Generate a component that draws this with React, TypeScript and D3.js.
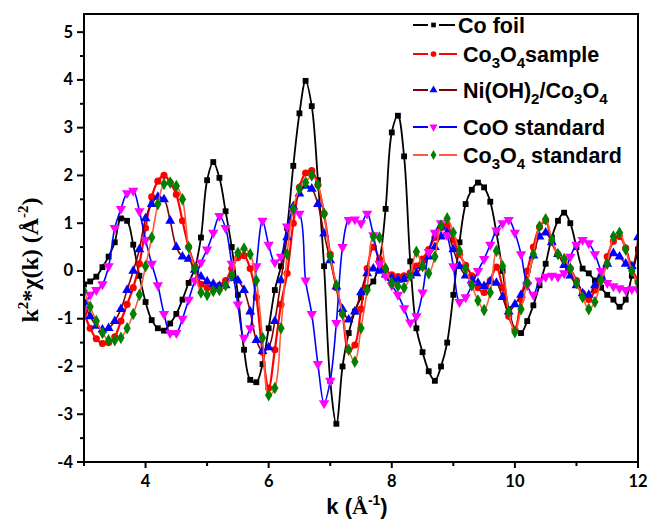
import React from "react";
import * as d3 from "d3";

// k grid: 3.0 to 12.0 in steps of 0.1
const kValues: number[] = Array.from({ length: 91 }, (_, i) => +(3 + i * 0.1).toFixed(1));

const coFoil = [
  -0.28, -0.22, -0.12, 0.08, 0.3, 0.6, 1.1, 1.05, 0.55, -0.1,
  -0.65, -1.03, -1.2, -1.25, -1.1, -0.9, -0.6, -0.25, 0.05, 0.7,
  1.9, 2.28, 1.95, 1.25, 0.5, -0.5, -1.65, -2.28, -2.33, -1.95,
  -1.2, -0.4, 0.1, 0.9, 2.2, 3.3, 3.98, 3.45, 1.9, 0.1,
  -2.3, -3.2, -2.0, -1.3, -0.85, -0.55, -0.35, -0.22, 0.2, 1.3,
  2.9, 3.25, 2.4, 0.2, -1.2, -1.7, -2.1, -2.3, -2.0, -1.5,
  -0.5, 0.6, 1.4, 1.7, 1.85, 1.75, 1.45, 0.8, 0.0, -0.8,
  -1.22, -1.3, -1.05, -0.72, -0.3, 0.15, 0.7, 1.05, 1.22, 1.0,
  0.5, 0.05, -0.05, -0.2, -0.35, -0.5, -0.6, -0.75, -0.6, -0.1,
  0.45,
];

const co3o4Sample = [
  -0.88, -1.2, -1.42, -1.52, -1.5, -1.38, -1.05, -0.7, -0.35, 0.15,
  0.9, 1.55, 1.88, 2.0, 1.85, 1.6, 1.05, 0.5, 0.1, -0.28,
  -0.35, -0.33, -0.3, -0.2, 0.05, 0.28, 0.32, 0.05, -0.55, -1.7,
  -2.45, -1.65, -0.7, -0.05, 1.0, 1.75, 2.05, 2.1, 1.8, 1.2,
  0.35, -0.35, -0.9, -1.65, -1.55, -0.8, 0.05, 0.5, 0.25, 0.0,
  -0.08, -0.12, -0.1, -0.04, 0.1, 0.25, 0.45, 0.7, 0.9, 0.95,
  0.65, 0.35, 0.12, -0.1, -0.35, -0.45, -0.2, 0.08, -0.35, -0.95,
  -1.22, -0.6, 0.0, 0.5, 0.92, 1.05, 0.6, 0.35, 0.25, 0.05,
  -0.2, -0.47, -0.6, -0.4, -0.1, 0.3, 0.62, 0.72, 0.48, 0.05,
  -0.2,
];

const niOH2Co3o4 = [
  -0.65, -0.95, -1.15, -1.23, -1.2, -1.05, -0.8, -0.4, 0.0, 0.45,
  1.1, 1.4, 1.55, 1.5, 1.05, 0.5, 0.3, 0.25, 0.02, -0.12,
  -0.22, -0.27, -0.32, -0.3, -0.15, -0.2, -0.4, -0.85, -1.45, -1.68,
  -1.6, -1.05, -0.2, 0.7, 1.35, 1.62, 1.78, 1.72, 1.4, 0.78,
  0.22, -0.33, -0.8, -1.02, -0.85, -0.45, -0.05, 0.05, 0.0, -0.08,
  -0.15, -0.19, -0.17, -0.1, -0.05, 0.1, 0.3, 0.5, 0.72, 0.8,
  0.45, 0.1, -0.1, -0.2, -0.25, -0.32, -0.22, -0.25, -0.55, -0.85,
  -0.7, -0.5, -0.22, 0.32, 0.72, 0.8, 0.6, 0.35, 0.12, -0.1,
  -0.3, -0.47, -0.5, -0.3, -0.1, 0.15, 0.37, 0.3, 0.15, 0.1,
  0.7,
];

const cooStandard = [
  -0.8, -0.5, -0.4, -0.28, 0.1, 0.9, 1.3, 1.63, 1.68, 1.25,
  0.65, 0.15, -0.3, -0.9, -1.3, -1.3, -1.0, -0.6, -0.2, 0.18,
  0.45, 0.8, 1.15, 0.9, 0.15, -0.7, -1.4, -1.2, 0.1, 1.05,
  0.55, 0.18, 0.3, 0.93, 1.25, 1.2, -0.2, -0.9, -1.95, -2.77,
  -2.3, -1.09, 0.5, 1.07, 1.08, 1.0, 1.2, 0.75, 0.15, -0.1,
  -0.3, -0.5, -0.78, -1.08, -0.95, -0.45, 0.4, 0.8, 1.0, 0.75,
  0.1, -0.65, -0.55, -0.3, 0.0, 0.25, 0.55, 0.85, 1.0, 1.07,
  0.8, 0.35, -0.3, -0.5, -0.2, -0.12, -0.1, -0.12, -0.05, 0.3,
  0.55, 0.65, 0.58, 0.35, 0.0, -0.25, -0.32, -0.36, -0.4, -0.38,
  -0.4,
];

const co3o4Standard = [
  -0.42, -0.75, -1.05, -1.3, -1.45, -1.45, -1.4, -1.2, -0.9, -0.5,
  0.1, 0.7, 1.4, 1.82, 1.85, 1.78, 1.5, 0.5, 0.05, -0.45,
  -0.5, -0.42, -0.4, -0.3, -0.1, 0.38, 0.47, 0.35, -0.2, -1.4,
  -2.6, -2.45, -1.2, 0.35, 1.3, 1.72, 1.85, 2.0, 1.8, 1.2,
  0.3, -0.3, -0.9, -1.65, -1.9, -1.2, -0.4, 0.72, 0.7, 0.05,
  -0.25, -0.32, -0.35, -0.1, 0.4, 0.1, -0.05, 0.3, 0.95, 1.1,
  0.8, 0.42, 0.05, -0.3, -0.62, -0.82, -0.45, 0.42, 0.1, -0.85,
  -1.28, -0.8, -0.25, 0.35, 0.93, 1.08, 0.65, 0.35, 0.25, 0.05,
  -0.25, -0.55, -0.8, -0.65, -0.2, 0.15, 0.72, 0.8, 0.45, 0.0,
  -0.25,
];

const xTicks = [4, 6, 8, 10, 12];
const xMinorTicks = [3, 5, 7, 9, 11];
const yTicks = [-4, -3, -2, -1, 0, 1, 2, 3, 4, 5];
const yMinorTicks = [-3.5, -2.5, -1.5, -0.5, 0.5, 1.5, 2.5, 3.5, 4.5];

type Series = {
  name: string;
  values: number[];
  line: string;
  marker: string;
  symbol: d3.SymbolType;
  size: number;
  rotate: number;
  lineWidth: number;
};

const seriesList: Series[] = [
  { name: "Co foil", values: coFoil, line: "#000000", marker: "#000000", symbol: d3.symbolSquare, size: 34, rotate: 0, lineWidth: 1.8 },
  { name: "Co3O4sample", values: co3o4Sample, line: "#ff0000", marker: "#ff0000", symbol: d3.symbolCircle, size: 40, rotate: 0, lineWidth: 2.2 },
  { name: "Ni(OH)2/Co3O4", values: niOH2Co3o4, line: "#800000", marker: "#0000ff", symbol: d3.symbolTriangle, size: 42, rotate: 0, lineWidth: 1.6 },
  { name: "CoO standard", values: cooStandard, line: "#0000ff", marker: "#ff00ff", symbol: d3.symbolTriangle, size: 46, rotate: 180, lineWidth: 1.6 },
  { name: "Co3O4 standard", values: co3o4Standard, line: "#ff5a3c", marker: "#008000", symbol: d3.symbolDiamond, size: 46, rotate: 0, lineWidth: 1.6 },
];

const W = 651;
const H = 520;
const x = d3.scaleLinear().domain([3, 12]).range([84, 638]);
const y = d3.scaleLinear().domain([-4, 5.38]).range([462, 14]);

const tickFont = "Lato, 'Open Sans', sans-serif";
const legendFont = "'Liberation Sans', Arial, sans-serif";

function Legend() {
  const rows = [
    { y: 25, textX: 458, label: <>Co foil</> },
    { y: 54, textX: 463, label: <>Co<tspan fontSize={15} dy={6}>3</tspan><tspan dy={-6}>O</tspan><tspan fontSize={15} dy={6}>4</tspan><tspan dy={-6}>sample</tspan></> },
    { y: 90, textX: 463, label: <>Ni(OH)<tspan fontSize={15} dy={6}>2</tspan><tspan dy={-6}>/Co</tspan><tspan fontSize={15} dy={6}>3</tspan><tspan dy={-6}>O</tspan><tspan fontSize={15} dy={6}>4</tspan></> },
    { y: 127, textX: 463, label: <>CoO standard</> },
    { y: 155, textX: 463, label: <>Co<tspan fontSize={15} dy={6}>3</tspan><tspan dy={-6}>O</tspan><tspan fontSize={15} dy={6}>4</tspan><tspan dy={-6}> standard</tspan></> },
  ];
  return (
    <g>
      {seriesList.map((s, i) => {
        const r = rows[i];
        const sym = d3.symbol().type(s.symbol).size(s.size)();
        const gapEnd = i === 0 ? 455 : 457;
        return (
          <g key={s.name}>
            <line x1={413} x2={428} y1={r.y} y2={r.y} stroke={s.line} strokeWidth={2} />
            <line x1={439} x2={gapEnd} y1={r.y} y2={r.y} stroke={s.line} strokeWidth={2} />
            <path d={sym || ""} transform={`translate(433.5,${r.y}) rotate(${s.rotate}) scale(0.8)`} fill={s.marker} />
            <text x={r.textX} y={r.y + 8} fontFamily={legendFont} fontWeight="bold" fontSize={21.5} fill="#000">
              {r.label}
            </text>
          </g>
        );
      })}
    </g>
  );
}

export default function App() {
  const line = d3
    .line<number>()
    .x((_, i) => x(kValues[i]))
    .y((d) => y(d))
    .curve(d3.curveCatmullRom.alpha(0.5));

  return (
    <svg
      width={W}
      height={H}
      style={{ position: "absolute", left: 0, top: 0, background: "#fff" }}
      xmlns="http://www.w3.org/2000/svg"
    >
      <rect x={0} y={0} width={W} height={H} fill="#fff" />
      <defs>
        <clipPath id="plotclip">
          <rect x={x(3)} y={y(5.38)} width={x(12) - x(3)} height={y(-4) - y(5.38)} />
        </clipPath>
      </defs>

      {/* series */}
      <g clipPath="url(#plotclip)">
        {seriesList.map((s) => {
          const sym = d3.symbol().type(s.symbol).size(s.size)() || "";
          return (
            <g key={s.name}>
              <path d={line(s.values) || ""} fill="none" stroke={s.line} strokeWidth={s.lineWidth} strokeLinejoin="round" />
              {s.values.map((v, i) => (
                <path
                  key={i}
                  d={sym}
                  transform={`translate(${x(kValues[i])},${y(v)}) rotate(${s.rotate})`}
                  fill={s.marker}
                />
              ))}
            </g>
          );
        })}
      </g>

      {/* frame */}
      <rect
        x={x(3)}
        y={y(5.38)}
        width={x(12) - x(3)}
        height={y(-4) - y(5.38)}
        fill="none"
        stroke="#000"
        strokeWidth={2}
      />

      {/* x ticks */}
      {xTicks.map((t) => (
        <g key={"xt" + t}>
          <line x1={x(t)} x2={x(t)} y1={y(-4)} y2={y(-4) + 6} stroke="#000" strokeWidth={2} />
          <text x={x(t)} y={487} textAnchor="middle" fontFamily={tickFont} fontWeight="bold" fontSize={16.5}>
            {t}
          </text>
        </g>
      ))}
      {xMinorTicks.map((t) => (
        <line key={"xm" + t} x1={x(t)} x2={x(t)} y1={y(-4)} y2={y(-4) + 4} stroke="#000" strokeWidth={2} />
      ))}

      {/* y ticks */}
      {yTicks.map((t) => (
        <g key={"yt" + t}>
          <line x1={x(3) - 7} x2={x(3)} y1={y(t)} y2={y(t)} stroke="#000" strokeWidth={2} />
          <text x={73} y={y(t) + 5.5} textAnchor="end" fontFamily={tickFont} fontWeight="bold" fontSize={16.5}>
            {t}
          </text>
        </g>
      ))}
      {yMinorTicks.map((t) => (
        <line key={"ym" + t} x1={x(3) - 4} x2={x(3)} y1={y(t)} y2={y(t)} stroke="#000" strokeWidth={2} />
      ))}

      {/* axis titles */}
      <text
        x={357}
        y={514}
        textAnchor="middle"
        fontFamily="'Liberation Sans', Arial, sans-serif"
        fontWeight="bold"
        fontSize={22}
      >
        k (<tspan fontFamily="'Liberation Serif', 'Times New Roman', serif">Å</tspan>
        <tspan fontSize={14} dy={-9}>-1</tspan>
        <tspan dy={9}>)</tspan>
      </text>

      <text
        transform="translate(38,260) rotate(-90)"
        textAnchor="middle"
        fontFamily="'Liberation Serif', 'Times New Roman', serif"
        fontWeight="bold"
        fontSize={24}
      >
        k<tspan fontSize={15} dy={-10}>2</tspan>
        <tspan dy={10}>*</tspan>χ(k) (Å
        <tspan fontSize={15} dy={-10}>-2</tspan>
        <tspan dy={10}>)</tspan>
      </text>

      <Legend />
    </svg>
  );
}
